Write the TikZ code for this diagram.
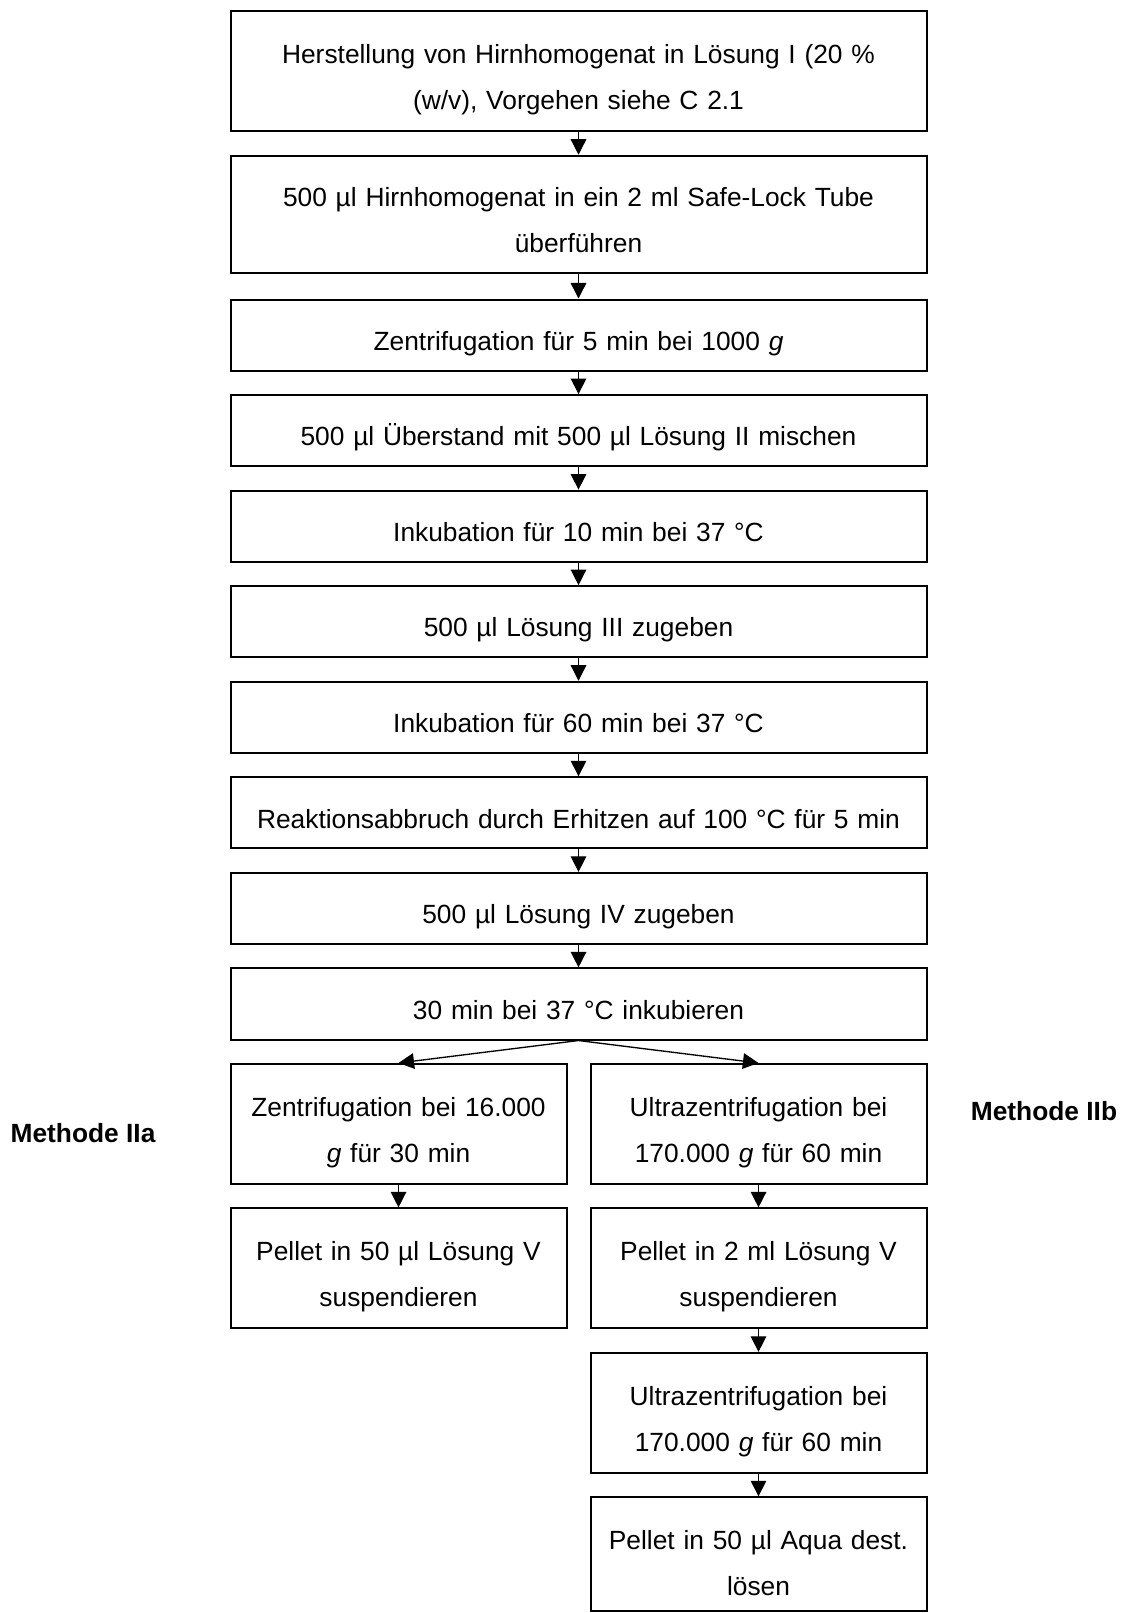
\documentclass[tikz,border=0pt]{standalone}
\usepackage{fontspec}
\setmainfont{Liberation Sans}
\usetikzlibrary{arrows.meta, positioning}
\tikzstyle{stage}     = [rectangle, minimum width=313.2pt, minimum height=32pt,
                          text centered, draw=black, line width=0.9pt, text width=305pt,
                          text height=16.3pt, text depth=2.6pt]
\tikzstyle{stagetall} = [stage, minimum height=54pt, text height=16.5pt, text depth=23.3pt]
\tikzstyle{branch}    = [rectangle, minimum width=151.2pt, minimum height=54pt,
                          text centered, draw=black, line width=0.9pt, text width=143pt,
                          text height=16.5pt, text depth=23.3pt]
\tikzstyle{methlabel} = [font=\fontsize{11.85pt}{20.7pt}\selectfont\bfseries]
\tikzstyle{arrow}     = [line width=0.6pt, -{Triangle[length=7pt, width=7pt]}]

\begin{document}
\begin{tikzpicture}[x=0.45pt, y=-0.45pt, node distance=10.1pt,
                    every node/.style={font=\fontsize{11.85pt}{20.7pt}\selectfont}]
  \useasboundingbox (0,0) rectangle (1121,1613);

  % Common steps
  \node (homog)  [stagetall, anchor=north] at (578.5,10.3)
                 {Herstellung von Hirnhomogenat in Lösung I (20 \%\\(w/v), Vorgehen siehe C 2.1};
  \node (tube)   [stagetall, minimum height=52.7pt, below=of homog]
                 {500 µl Hirnhomogenat in ein 2 ml Safe-Lock Tube\\überführen};
  \node (zentr)  [stage, below=11.1pt of tube] {Zentrifugation für 5 min bei 1000 \textit{g}};
  \node (mix)    [stage, below=of zentr]  {500 µl Überstand mit 500 µl Lösung II mischen};
  \node (ink1)   [stage, below=of mix]    {Inkubation für 10 min bei 37 °C};
  \node (sol3)   [stage, below=of ink1]   {500 µl Lösung III zugeben};
  \node (ink2)   [stage, below=of sol3]   {Inkubation für 60 min bei 37 °C};
  \node (stop)   [stage, below=of ink2]   {Reaktionsabbruch durch Erhitzen auf 100 °C für 5 min};
  \node (sol4)   [stage, below=of stop]   {500 µl Lösung IV zugeben};
  \node (ink3)   [stage, below=of sol4]   {30 min bei 37 °C inkubieren};

  % Methode IIa
  \node (zentrA) [branch, below=of ink3.south west, anchor=north west]
                 {Zentrifugation bei 16.000\\\textit{g} für 30 min};
  \node (pelA)   [branch, below=of zentrA] {Pellet in 50 µl Lösung V\\suspendieren};

  % Methode IIb
  \node (ultraB) [branch, below=of ink3.south east, anchor=north east]
                 {Ultrazentrifugation bei\\170.000 \textit{g} für 60 min};
  \node (pelB)   [branch, below=of ultraB] {Pellet in 2 ml Lösung V\\suspendieren};
  \node (ultraC) [branch, below=of pelB]   {Ultrazentrifugation bei\\170.000 \textit{g} für 60 min};
  \node (aqua)   [branch, below=of ultraC, minimum height=51.2pt, text height=19.3pt]
                 {Pellet in 50 µl Aqua dest.\\lösen};

  % Labels
  \node (labA) [methlabel] at (83,1133)  {Methode IIa};
  \node (labB) [methlabel] at (1044,1111) {Methode IIb};

  % Arrows
  \draw[arrow] (homog) -- (tube);
  \draw[arrow] (tube)  -- (zentr);
  \draw[arrow] (zentr) -- (mix);
  \draw[arrow] (mix)   -- (ink1);
  \draw[arrow] (ink1)  -- (sol3);
  \draw[arrow] (sol3)  -- (ink2);
  \draw[arrow] (ink2)  -- (stop);
  \draw[arrow] (stop)  -- (sol4);
  \draw[arrow] (sol4)  -- (ink3);
  \draw[arrow] (ink3.south) -- (zentrA.north);
  \draw[arrow] (ink3.south) -- (ultraB.north);
  \draw[arrow] (zentrA) -- (pelA);
  \draw[arrow] (ultraB) -- (pelB);
  \draw[arrow] (pelB)   -- (ultraC);
  \draw[arrow] (ultraC) -- (aqua);

\end{tikzpicture}
\end{document}
